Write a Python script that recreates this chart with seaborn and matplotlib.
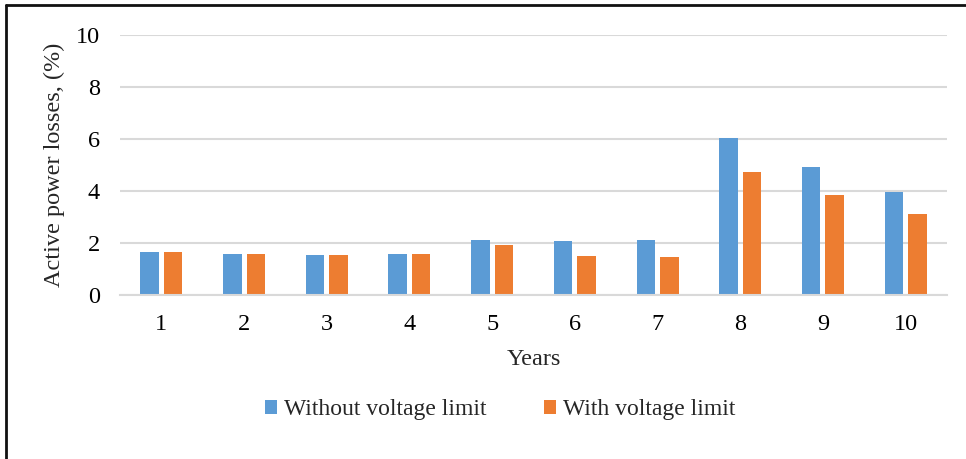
import matplotlib
matplotlib.use("Agg")
import matplotlib.pyplot as plt
from matplotlib.lines import Line2D
import seaborn as sns
import pandas as pd

years = ["1", "2", "3", "4", "5", "6", "7", "8", "9", "10"]
without_limit = [1.65, 1.55, 1.51, 1.56, 2.12, 2.06, 2.10, 6.03, 4.91, 3.96]
with_limit = [1.65, 1.55, 1.51, 1.56, 1.91, 1.49, 1.44, 4.72, 3.83, 3.09]
series_names = ["Without voltage limit", "With voltage limit"]
colors = ["#5B9BD5", "#ED7D31"]

df = pd.DataFrame({
    "Year": years * 2,
    "Loss": without_limit + with_limit,
    "Scenario": [series_names[0]] * len(years) + [series_names[1]] * len(years),
})

sns.set_theme(style="white")
plt.rcParams["font.family"] = ["Liberation Serif", "DejaVu Serif"]

fig = plt.figure(figsize=(9.66, 4.59), dpi=100)
ax = fig.add_axes([120 / 966, 1 - 294.7 / 459, (947 - 120) / 966, (294.7 - 34.7) / 459])

sns.barplot(data=df, x="Year", y="Loss", hue="Scenario", order=years,
            hue_order=series_names, palette=colors, saturation=1,
            width=0.568, gap=0.21, linewidth=0, ax=ax)

ax.set_ylim(0, 10)
ax.set_yticks(range(0, 11, 2))
ax.yaxis.grid(True, color="#D9D9D9", linewidth=1.5)
ax.set_axisbelow(True)
for side in ["left", "right", "top"]:
    ax.spines[side].set_visible(False)
ax.spines["bottom"].set_color("#D9D9D9")
ax.spines["bottom"].set_linewidth(1.5)
ax.tick_params(axis="both", length=0, labelsize=17.5, colors="#000000")
ax.tick_params(axis="y", pad=14.4)
ax.tick_params(axis="x", pad=14)

ax.set_xlabel("Years", fontsize=17.5, labelpad=10)
ax.set_ylabel("Active power losses, (%)", fontsize=17.5, labelpad=8)

handles, labels = ax.get_legend_handles_labels()
ax.legend(handles, labels, loc="center", bbox_to_anchor=(500 / 966, 1 - 410 / 459),
          bbox_transform=fig.transFigure, ncol=2, frameon=False, fontsize=17,
          handlelength=0.5, handleheight=0.5, handletextpad=0.3, columnspacing=2.45)

# outer frame
fig.add_artist(Line2D([6 / 966, 6 / 966], [0, 1 - 5 / 459], transform=fig.transFigure,
                      color="#111111", linewidth=2))
fig.add_artist(Line2D([6 / 966, 1], [1 - 5 / 459, 1 - 5 / 459], transform=fig.transFigure,
                      color="#111111", linewidth=2))

fig.savefig("out.png", dpi=100)
